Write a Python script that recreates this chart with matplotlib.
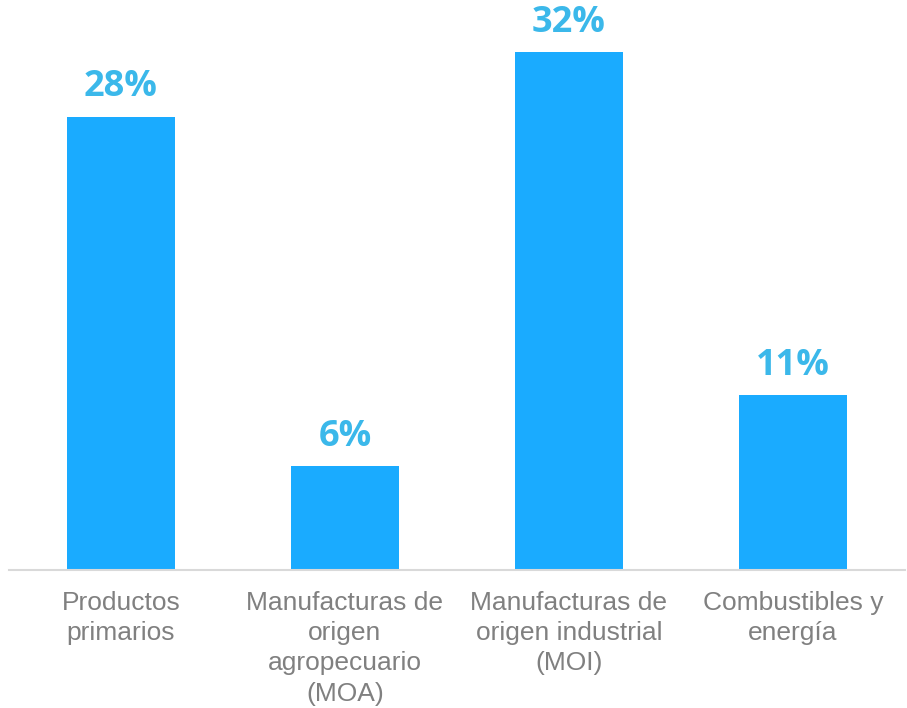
import matplotlib.pyplot as plt

categories = ['Productos\nprimarios',
              'Manufacturas de\norigen\nagropecuario\n(MOA)',
              'Manufacturas de\norigen industrial\n(MOI)',
              'Combustibles y\nenergía']
values = [28.0, 6.4, 32.0, 10.8]
labels = ['28%', '6%', '32%', '11%']

fig = plt.figure(figsize=(9.07, 7.08), dpi=100)
ax = fig.add_axes([9 / 907, 138 / 708, 896 / 907, 570 / 708])

x = range(len(categories))
bars = ax.bar(x, values, width=0.48, color='#1aabff')

for b, lab in zip(bars, labels):
    ax.annotate(lab, (b.get_x() + b.get_width() / 2, b.get_height()),
                xytext=(0, 8), textcoords='offset points',
                ha='center', va='bottom', fontsize=26, fontweight='bold',
                color='#3bb8ea', family='Open Sans')

ax.set_xlim(-0.5, 3.5)
ax.set_ylim(0, 35.2)
ax.set_xticks(list(x))
ax.set_xticklabels(categories, fontsize=19, color='#808080',
                   family='Liberation Sans', linespacing=1.33)
ax.tick_params(axis='x', length=0, pad=15)
ax.set_yticks([])
for s in ['top', 'right', 'left']:
    ax.spines[s].set_visible(False)
ax.spines['bottom'].set_color('#d9d9d9')
ax.spines['bottom'].set_linewidth(1.5)

fig.savefig('out.png', dpi=100)
